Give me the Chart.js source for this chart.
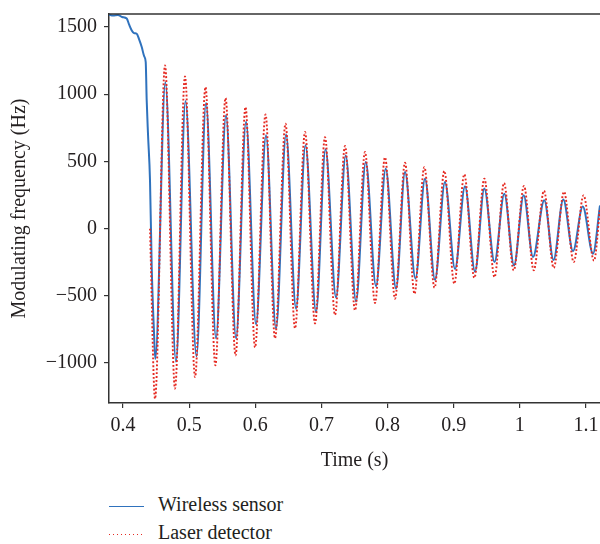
<!DOCTYPE html>
<html>
<head>
<meta charset="utf-8">
<script src="https://cdn.jsdelivr.net/npm/chart.js@4.4.1/dist/chart.umd.min.js"></script>
<style>
  body { margin: 0; background: #fff; }
  #wrap { position: relative; width: 600px; height: 544px; }
  .item { position: absolute; left: 109px; height: 24px; line-height: 24px;
          font: 20px 'Liberation Serif', serif; color: #231f20; white-space: nowrap; }
  .swatch { display: inline-block; width: 35px; height: 1.6px; vertical-align: middle; margin-right: 14px; }
  .solid { background: #2f72bd; }
  .dots { background: repeating-linear-gradient(to right, #e52a22 0 1.4px, transparent 1.4px 4px); }
</style>
</head>
<body>
<div id="wrap">
  <canvas id="grafico" width="600" height="480"></canvas>
  <div class="item" style="top:493px"><span class="swatch solid"></span>Wireless sensor</div>
  <div class="item" style="top:521px"><span class="swatch dots"></span>Laser detector</div>
</div>
<script>
// valores (tempo em s, frequencia em Hz)
var sensorTempo = [0.3788, 0.3849, 0.3924, 0.3985, 0.4056, 0.4091, 0.4132, 0.4166, 0.4207, 0.4242, 0.4283, 0.4322, 0.4343, 0.4358, 0.4378, 0.4408, 0.4434, 0.4469,
  0.4488, 0.4640, 0.4801, 0.4945, 0.5111, 0.5255, 0.5406, 0.5557, 0.5709, 0.5860, 0.6011, 0.6162, 0.6313, 0.6465,
  0.6616, 0.6759, 0.6918, 0.7062, 0.7221, 0.7367, 0.7523, 0.7670, 0.7825, 0.7972, 0.8128, 0.8264, 0.8422, 0.8566,
  0.8717, 0.8868, 0.9020, 0.9171, 0.9322, 0.9463, 0.9617, 0.9765, 0.9912, 1.0058, 1.0199, 1.0370, 1.0509, 1.0657,
  1.0804, 1.0951, 1.1106, 1.1212]
var sensorFreq = [1592, 1585, 1590, 1575, 1563, 1520, 1475, 1455, 1450, 1410, 1351, 1280, 1240, 955, 700, 359, -287, -780,
  -970, 1090, -990, 950, -950, 935, -815, 843, -815, 795, -712, 695, -744, 700,
  -595, 620, -620, 590, -512, 545, -541, 496, -428, 446, -446, 421, -372, 372,
  -380, 347, -300, 315, -320, 298, -248, 260, -273, 248, -211, 211, -233, 217,
  -167, 164, -186, 173]

var laserTempo = [0.4408, 0.4484, 0.4635, 0.4786, 0.4937, 0.5089, 0.5247, 0.5396, 0.5550, 0.5701, 0.5852, 0.5996,
  0.6155, 0.6298, 0.6457, 0.6601, 0.6752, 0.6903, 0.7054, 0.7205, 0.7357, 0.7508, 0.7659, 0.7810, 0.7961, 0.8113,
  0.8264, 0.8407, 0.8556, 0.8710, 0.8858, 0.9009, 0.9160, 0.9312, 0.9463, 0.9617, 0.9761, 0.9907, 1.0063, 1.0210,
  1.0365, 1.0512, 1.0668, 1.0814, 1.0963, 1.1121, 1.1212]
var laserFreq = [0, -1265, 1215, -1190, 1133, -1104, 1053, -1017, 972, -943, 905, -883,
  850, -816, 781, -742, 719, -705, 681, -642, 615, -608, 570, -553, 530, -521,
  490, -484, 458, -439, 429, -409, 404, -366, 372, -360, 339, -310, 318, -310,
  282, -292, 275, -248, 248, -238, 150]

var xTicks = [0.4, 0.5, 0.6, 0.7, 0.8, 0.9, 1.0, 1.1]
var xTickLabels = ['0.4', '0.5', '0.6', '0.7', '0.8', '0.9', '1', '1.1']
var yTicks = [-1000, -500, 0, 500, 1000, 1500]
var yTickLabels = ['\u22121000', '\u2212500', '0', '500', '1000', '1500']

Chart.defaults.font.family = "'Liberation Serif', serif"
Chart.defaults.font.size = 20
Chart.defaults.color = '#231f20'

var corEixo = '#333333'

const moldura = {
  id: 'moldura',
  afterDraw(chart) {
    var a = chart.chartArea
    var c = chart.ctx
    c.save()
    c.strokeStyle = corEixo
    c.lineWidth = 1.5
    c.beginPath()
    c.moveTo(a.left, a.top)
    c.lineTo(a.right + 2, a.top)
    c.stroke()
    c.restore()
  }
}

const ctx = document.getElementById('grafico')

new Chart(ctx, {
  type: 'line',
  data: {
    datasets: [{
      label: 'Laser detector',
      data: laserTempo.map((t, i) => ({ x: t, y: laserFreq[i] })),
      borderColor: '#e52a22',
      borderWidth: 1.9,
      borderDash: [1.9, 2],
      pointRadius: 0,
      cubicInterpolationMode: 'monotone',
      clip: 0,
      order: 1
    }, {
      label: 'Wireless sensor',
      data: sensorTempo.map((t, i) => ({ x: t, y: sensorFreq[i] })),
      borderColor: '#2f72bd',
      borderWidth: 2,
      pointRadius: 0,
      cubicInterpolationMode: 'monotone',
      clip: 0,
      order: 2
    }]
  },
  plugins: [moldura],
  options: {
    responsive: false,
    animation: false,
    events: [],
    layout: { padding: { top: 14, right: 0, left: 0, bottom: 0 } },
    plugins: {
      legend: { display: false },
      tooltip: { enabled: false }
    },
    scales: {
      x: {
        type: 'linear',
        min: 0.3788,
        max: 1.1212,
        afterFit: function (s) { s.height = 77; s.paddingLeft = 0; s.paddingRight = 0 },
        afterBuildTicks: function (s) { s.ticks = xTicks.map(v => ({ value: v })) },
        ticks: {
          padding: 6,
          maxRotation: 0,
          callback: function (v) { return xTickLabels[xTicks.indexOf(Math.round(v * 10) / 10)] }
        },
        grid: { drawOnChartArea: false, drawTicks: true, tickLength: 5, color: corEixo, lineWidth: 1.2 },
        border: { display: true, color: corEixo, width: 1.5 },
        title: { display: true, text: 'Time (s)', padding: { top: 0, bottom: 7 } }
      },
      y: {
        min: -1297,
        max: 1597,
        afterFit: function (s) { s.width = 109; s.paddingTop = 0; s.paddingBottom = 0 },
        afterBuildTicks: function (s) { s.ticks = yTicks.map(v => ({ value: v })) },
        ticks: {
          padding: 7,
          callback: function (v) { return yTickLabels[yTicks.indexOf(v)] }
        },
        grid: { drawOnChartArea: false, drawTicks: true, tickLength: 5, color: corEixo, lineWidth: 1.2 },
        border: { display: true, color: corEixo, width: 1.5 },
        title: { display: true, text: 'Modulating frequency (Hz)', padding: { top: 8, bottom: 0 } }
      }
    }
  }
})
</script>
</body>
</html>
